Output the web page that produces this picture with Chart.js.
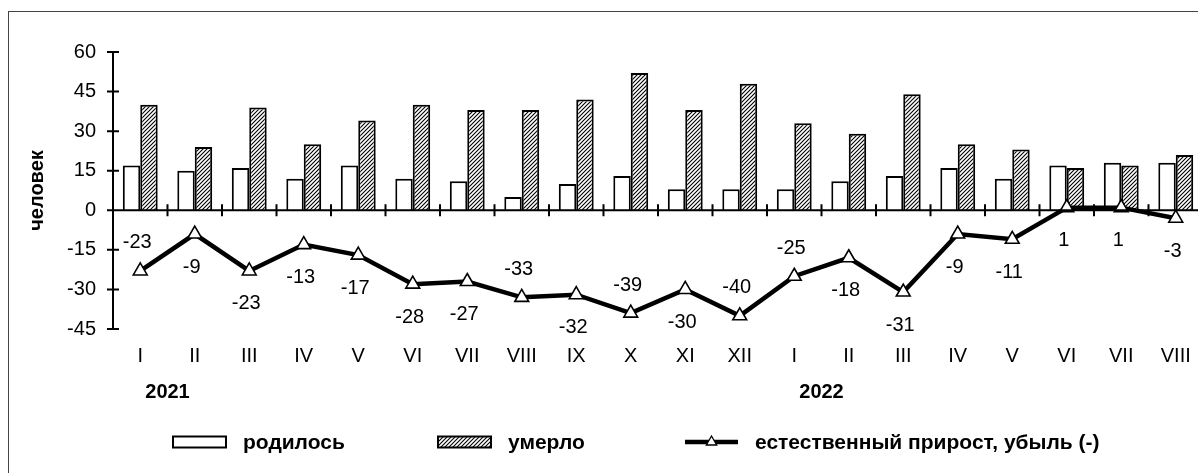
<!DOCTYPE html>
<html>
<head>
<meta charset="utf-8">
<script src="https://cdn.jsdelivr.net/npm/chart.js@4/dist/chart.umd.min.js"></script>
<style>
    html, body { margin: 0; padding: 0; background: #fff; overflow: hidden; }
    #wrap { width: 1198px; height: 473px; overflow: hidden; }
</style>
</head>
<body>
<div id="wrap"><canvas id="chart" width="1230" height="473"></canvas></div>
<script>
var MONTHS = ["I", "II", "III", "IV", "V", "VI", "VII", "VIII", "IX", "X", "XI", "XII",
              "I", "II", "III", "IV", "V", "VI", "VII", "VIII"];
var BORN = [17, 15, 16, 12, 17, 12, 11, 5, 10, 13, 8, 8, 8, 11, 13, 16, 12, 17, 18, 18];
var DIED = [40, 24, 39, 25, 34, 40, 38, 38, 42, 52, 38, 48, 33, 29, 44, 25, 23, 16, 17, 21];
var GROWTH = [-23, -9, -23, -13, -17, -28, -27, -33, -32, -39, -30, -40, -25, -18, -31, -9, -11, 1, 1, -3];
// where each growth label sits: above or below its point
var LABEL_SIDE = ["up", "down", "down", "down", "down", "down", "down", "up", "down", "up",
                  "down", "up", "up", "down", "down", "down", "down", "down", "down", "down"];
var YEARS = ["2021", "2022"];
var YEAR_START = [0, 12];
var Y_MIN = -45, Y_MAX = 60, Y_STEP = 15;

var FONT = "'Liberation Sans', Arial, sans-serif";

function hatch() {
    const s = 4;
    const c = document.createElement("canvas");
    c.width = s;
    c.height = s;
    const g = c.getContext("2d");
    g.fillStyle = "#fff";
    g.fillRect(0, 0, s, s);
    g.strokeStyle = "#000";
    g.lineWidth = 1.1;
    g.beginPath();
    g.moveTo(0, s); g.lineTo(s, 0);
    g.moveTo(-1, 1); g.lineTo(1, -1);
    g.moveTo(s - 1, s + 1); g.lineTo(s + 1, s - 1);
    g.stroke();
    return g.createPattern(c, "repeat");
}

const HATCH = hatch();

const decor = {
    id: "decor",
    beforeDraw(chart) {
        const ctx = chart.ctx;
        ctx.save();
        ctx.strokeStyle = "#444";
        ctx.lineWidth = 1;
        ctx.strokeRect(8.5, 11.5, 3000, 3000);
        ctx.restore();
    },
    afterDatasetsDraw(chart) {
        const ctx = chart.ctx;
        const x = chart.scales.x, y = chart.scales.y;
        const area = chart.chartArea;
        const y0 = y.getPixelForValue(0);
        ctx.save();
        ctx.strokeStyle = "#000";
        ctx.lineWidth = 2;
        ctx.beginPath();
        ctx.moveTo(area.left, y.getPixelForValue(Y_MAX) - 1);
        ctx.lineTo(area.left, y.getPixelForValue(Y_MIN) + 1);
        for (let v = Y_MIN; v <= Y_MAX; v += Y_STEP) {
            const py = y.getPixelForValue(v);
            ctx.moveTo(area.left - 6, py);
            ctx.lineTo(area.left + 6, py);
        }
        ctx.moveTo(area.left, y0);
        ctx.lineTo(area.right, y0);
        for (let i = 1; i < MONTHS.length; i++) {
            const bx = (x.getPixelForValue(i - 1) + x.getPixelForValue(i)) / 2;
            ctx.moveTo(bx, y0 - 6);
            ctx.lineTo(bx, y0 + 6);
        }
        ctx.stroke();

        // growth values
        const meta = chart.getDatasetMeta(2);
        ctx.fillStyle = "#000";
        ctx.font = "20px " + FONT;
        ctx.textAlign = "center";
        ctx.textBaseline = "middle";
        meta.data.forEach(function (pt, i) {
            const dy = LABEL_SIDE[i] == "up" ? -28 : 33;
            ctx.fillText(String(GROWTH[i]), pt.x - 3, pt.y + dy);
        });
        ctx.restore();
    },
    afterDraw(chart) {
        const ctx = chart.ctx;
        const x = chart.scales.x;
        ctx.save();
        ctx.fillStyle = "#000";
        ctx.font = "bold 20px " + FONT;
        ctx.textAlign = "center";
        ctx.textBaseline = "middle";
        YEARS.forEach(function (yr, k) {
            const i = YEAR_START[k];
            const cx = (x.getPixelForValue(i) + x.getPixelForValue(i + 1)) / 2;
            ctx.fillText(yr, cx, 392);
        });

        // legend
        const legendX = [173, 438, 685];
        const ly = 442;
        ctx.textAlign = "left";
        ctx.font = "bold 21px " + FONT;
        chart.data.datasets.forEach(function (ds, k) {
            const lx = legendX[k];
            if (ds.type == "line") {
                ctx.strokeStyle = "#000";
                ctx.lineWidth = 4.5;
                ctx.beginPath();
                ctx.moveTo(lx, ly);
                ctx.lineTo(lx + 53, ly);
                ctx.stroke();
                const r = 6, cx = lx + 26.5;
                ctx.beginPath();
                ctx.moveTo(cx, ly - r);
                ctx.lineTo(cx + r * 0.866, ly + r * 0.5);
                ctx.lineTo(cx - r * 0.866, ly + r * 0.5);
                ctx.closePath();
                ctx.fillStyle = "#fff";
                ctx.fill();
                ctx.lineWidth = 1.3;
                ctx.stroke();
            } else {
                ctx.fillStyle = ds.backgroundColor;
                ctx.fillRect(lx, ly - 5.5, 53, 11);
                ctx.strokeStyle = "#000";
                ctx.lineWidth = 2;
                ctx.strokeRect(lx, ly - 5.5, 53, 11);
            }
            ctx.fillStyle = "#000";
            ctx.fillText(ds.label, lx + 70, ly + 1);
        });
        ctx.restore();
    },
};

const data = {
    labels: MONTHS,
    datasets: [
        {
            type: "bar",
            label: "родилось",
            data: BORN,
            backgroundColor: "#fff",
            borderColor: "#000",
            borderWidth: 2,
            categoryPercentage: 0.64,
            barPercentage: 1.0,
            order: 2,
        },
        {
            type: "bar",
            label: "умерло",
            data: DIED,
            backgroundColor: HATCH,
            borderColor: "#000",
            borderWidth: 2,
            categoryPercentage: 0.64,
            barPercentage: 1.0,
            order: 2,
        },
        {
            type: "line",
            label: "естественный прирост, убыль (-)",
            data: GROWTH,
            borderColor: "#000",
            borderWidth: 4.5,
            pointStyle: "triangle",
            pointRadius: 8,
            pointBackgroundColor: "#fff",
            pointBorderColor: "#000",
            pointBorderWidth: 1.6,
            tension: 0,
            order: 1,
        },
    ],
};

const config = {
    type: "bar",
    data: data,
    options: {
        animation: false,
        responsive: false,
        layout: {
            padding: { top: 52, right: 27, bottom: 0, left: 0 },
        },
        plugins: {
            legend: { display: false },
            tooltip: { enabled: false },
        },
        scales: {
            x: {
                grid: { display: false, drawTicks: false },
                border: { display: false },
                ticks: {
                    color: "#000",
                    padding: 15,
                    maxRotation: 0,
                    autoSkip: false,
                    font: { family: FONT, size: 20 },
                },
                afterFit: function (scale) {
                    scale.height = 144;
                },
            },
            y: {
                min: Y_MIN,
                max: Y_MAX,
                grid: { display: false, drawTicks: false },
                border: { display: false },
                ticks: {
                    stepSize: Y_STEP,
                    color: "#000",
                    padding: 17,
                    font: { family: FONT, size: 20 },
                },
                title: {
                    display: true,
                    text: "человек",
                    color: "#000",
                    padding: { top: 25, bottom: 0 },
                    font: { family: FONT, size: 20, weight: "bold" },
                },
                afterFit: function (scale) {
                    scale.width = 113;
                },
            },
        },
    },
    plugins: [decor],
};

new Chart(document.getElementById("chart"), config);
</script>
</body>
</html>
